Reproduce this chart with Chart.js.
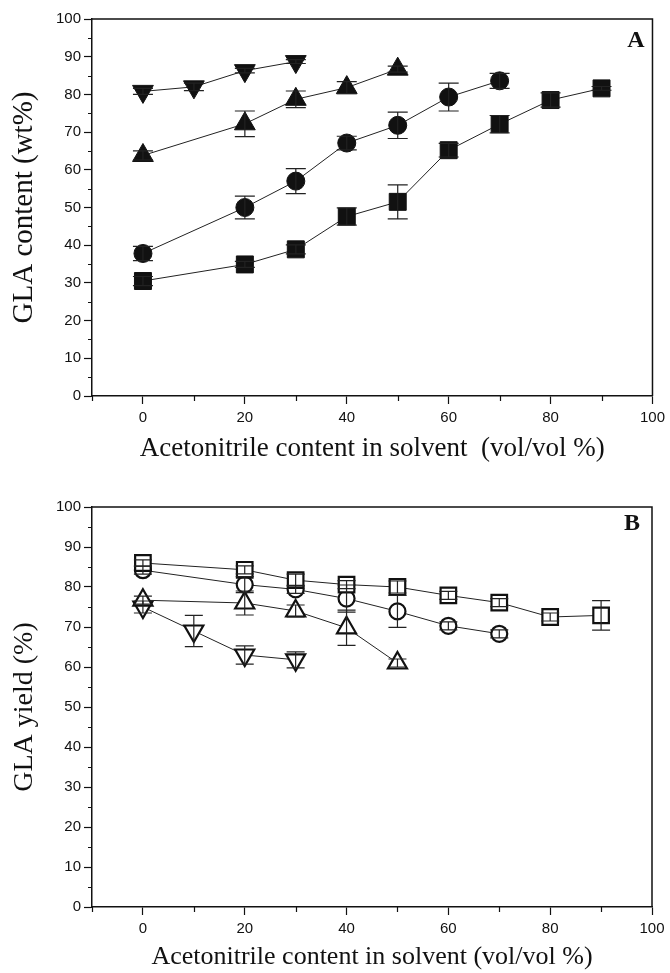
<!DOCTYPE html>
<html>
<head>
<meta charset="utf-8">
<script src="https://cdn.jsdelivr.net/npm/chart.js@4.4.1/dist/chart.umd.min.js"></script>
<style>
  html, body { margin: 0; padding: 0; background: #fff; }
  canvas { display: block; }
</style>
</head>
<body>
<canvas id="chartA" width="670" height="480"></canvas>
<canvas id="chartB" width="670" height="493"></canvas>
<script>
// ---------- data ----------
const xTickLabels = [0, 20, 40, 60, 80, 100];
const yTickLabels = [0, 10, 20, 30, 40, 50, 60, 70, 80, 90, 100];

const downTriX = [0, 10, 20, 30];
const upTriX   = [0, 20, 30, 40, 50];
const circleX  = [0, 20, 30, 40, 50, 60, 70];
const squareX  = [0, 20, 30, 40, 50, 60, 70, 80, 90];

// Panel A: GLA content (wt%)
const downTriA    = [80.8, 82.0, 86.3, 88.7];
const downTriAErr = [0.8, 1.0, 0.6, 0.5];
const upTriA      = [63.8, 72.2, 78.7, 81.8, 86.7];
const upTriAErr   = [1.2, 3.4, 2.2, 1.6, 0.8];
const circleA     = [37.8, 50.0, 57.0, 67.1, 71.8, 79.3, 83.6];
const circleAErr  = [1.9, 3.0, 3.3, 1.8, 3.5, 3.7, 2.0];
const squareA     = [30.5, 34.9, 38.9, 47.6, 51.5, 65.2, 72.1, 78.5, 81.6];
const squareAErr  = [1.2, 0.8, 1.2, 2.3, 4.5, 1.8, 2.3, 1.9, 0.5];

// Panel B: GLA yield (%)
const squareB     = [86.0, 84.3, 81.7, 80.6, 80.0, 77.9, 76.1, 72.5, 72.9];
const squareBErr  = [0.8, 1.0, 1.5, 1.0, 1.5, 1.0, 1.0, 1.0, 3.7];
const circleB     = [84.2, 80.6, 79.4, 77.1, 73.9, 70.3, 68.3];
const circleBErr  = [1.0, 2.0, 1.0, 3.4, 4.0, 1.0, 1.0];
const upTriB      = [76.7, 76.0, 74.0, 69.8, 61.0];
const upTriBErr   = [1.0, 3.0, 1.5, 4.4, 1.0];
const downTriB    = [75.0, 69.0, 63.0, 61.8];
const downTriBErr = [1.5, 3.9, 2.3, 2.0];

// ---------- helpers ----------
const pts = (xs, ys) => xs.map((x, i) => ({ x: x, y: ys[i] }));

function series(xs, ys, errs, style, filled, radius, rotation, capW) {
  return {
    data: pts(xs, ys),
    errors: errs,
    capWidth: capW,
    showLine: true,
    borderColor: '#222',
    borderWidth: 1,
    pointStyle: style,
    pointRotation: rotation || 0,
    pointRadius: radius,
    pointHoverRadius: radius,
    pointBackgroundColor: filled ? '#111' : '#fff',
    pointBorderColor: '#111',
    pointBorderWidth: filled ? 1 : 2.2,
    fill: false,
    tension: 0
  };
}

const errorBars = {
  id: 'errorBars',
  afterDatasetsDraw(chart) {
    const { ctx, scales: { x, y } } = chart;
    ctx.save();
    ctx.strokeStyle = '#222';
    ctx.lineWidth = 1.2;
    chart.data.datasets.forEach(ds => {
      const hw = ds.capWidth / 2;
      ds.data.forEach((p, i) => {
        const e = ds.errors[i];
        const px = x.getPixelForValue(p.x);
        const pt = y.getPixelForValue(p.y + e);
        const pb = y.getPixelForValue(p.y - e);
        ctx.beginPath();
        ctx.moveTo(px, pt); ctx.lineTo(px, pb);
        ctx.moveTo(px - hw, pt); ctx.lineTo(px + hw, pt);
        ctx.moveTo(px - hw, pb); ctx.lineTo(px + hw, pb);
        ctx.stroke();
      });
    });
    ctx.restore();
  }
};

const frame = {
  id: 'frame',
  afterDraw(chart, args, opts) {
    const { ctx, chartArea: a, scales: { x, y } } = chart;
    ctx.save();
    ctx.strokeStyle = '#111';
    ctx.lineWidth = 1.5;
    ctx.beginPath();
    ctx.moveTo(a.left, a.top); ctx.lineTo(a.right, a.top); ctx.lineTo(a.right, a.bottom);
    ctx.stroke();
    // minor ticks
    ctx.lineWidth = 1.2;
    ctx.beginPath();
    for (let v = 5; v < 100; v += 10) {
      const py = Math.round(y.getPixelForValue(v)) + 0.5;
      ctx.moveTo(a.left, py); ctx.lineTo(a.left - 4, py);
    }
    for (let v = -10; v < 100; v += 20) {
      const px = Math.round(x.getPixelForValue(v)) + 0.5;
      ctx.moveTo(px, a.bottom); ctx.lineTo(px, a.bottom + 5);
    }
    ctx.stroke();
    // panel letter
    ctx.fillStyle = '#111';
    ctx.font = 'bold 24px "Liberation Serif", "Times New Roman", serif';
    ctx.textAlign = 'center';
    ctx.textBaseline = 'middle';
    ctx.fillText(opts.letter, opts.lx, opts.ly);
    ctx.restore();
  }
};

function makeOptions(cfg) {
  return {
    responsive: false,
    animation: false,
    events: [],
    layout: { padding: { top: cfg.top, right: cfg.right, left: 0, bottom: 0 } },
    plugins: {
      legend: { display: false },
      tooltip: { enabled: false },
      frame: { letter: cfg.letter, lx: cfg.lx, ly: cfg.ly }
    },
    scales: {
      x: {
        type: 'linear', min: -10, max: 100,
        afterBuildTicks: s => { s.ticks = xTickLabels.map(v => ({ value: v })); },
        afterFit: s => { s.height = cfg.xh; },
        grid: { drawOnChartArea: false, tickLength: 8, color: '#111', tickWidth: 1.2 },
        border: { display: true, color: '#111', width: 1.5 },
        ticks: { color: '#111', padding: 5, font: { family: '"Liberation Sans", Arial, sans-serif', size: 15 } },
        title: {
          display: true, text: cfg.xTitle, color: '#111',
          font: { family: '"Liberation Serif", "Times New Roman", serif', size: cfg.xSize, lineHeight: 1 },
          padding: { top: 0, bottom: cfg.xTitlePad }
        }
      },
      y: {
        type: 'linear', min: 0, max: 100,
        afterBuildTicks: s => { s.ticks = yTickLabels.map(v => ({ value: v })); },
        afterFit: s => { s.width = 92; },
        grid: { drawOnChartArea: false, tickLength: 8, color: '#111', tickWidth: 1.2 },
        border: { display: true, color: '#111', width: 1.5 },
        ticks: { color: '#111', padding: 3, font: { family: '"Liberation Sans", Arial, sans-serif', size: 15 } },
        title: {
          display: true, text: cfg.yTitle, color: '#111',
          font: { family: '"Liberation Serif", "Times New Roman", serif', size: cfg.ySize, lineHeight: 1 },
          padding: { top: cfg.yTitlePad, bottom: 0 }
        }
      }
    }
  };
}

new Chart(document.getElementById('chartA'), {
  type: 'scatter',
  data: {
    datasets: [
      series(downTriX, downTriA, downTriAErr, 'triangle', true, 12, 180, 20),
      series(upTriX, upTriA, upTriAErr, 'triangle', true, 12, 0, 20),
      series(circleX, circleA, circleAErr, 'circle', true, 9, 0, 20),
      series(squareX, squareA, squareAErr, 'rect', true, 12, 0, 20)
    ]
  },
  options: makeOptions({
    top: 19, right: 15, xh: 84, xTitlePad: 18, yTitlePad: 10, ySize: 29, xSize: 27,
    xTitle: 'Acetonitrile content in solvent  (vol/vol %)',
    yTitle: 'GLA content (wt%)',
    letter: 'A', lx: 636, ly: 41
  }),
  plugins: [errorBars, frame]
});

new Chart(document.getElementById('chartB'), {
  type: 'scatter',
  data: {
    datasets: [
      series(squareX, squareB, squareBErr, 'rect', false, 11, 0, 18),
      series(circleX, circleB, circleBErr, 'circle', false, 8, 0, 18),
      series(upTriX, upTriB, upTriBErr, 'triangle', false, 11, 0, 18),
      series(downTriX, downTriB, downTriBErr, 'triangle', false, 11, 180, 18)
    ]
  },
  options: makeOptions({
    top: 27, right: 18, xh: 66, xTitlePad: 3, yTitlePad: 11, ySize: 28, xSize: 26,
    xTitle: 'Acetonitrile content in solvent (vol/vol %)',
    yTitle: 'GLA yield (%)',
    letter: 'B', lx: 632, ly: 44
  }),
  plugins: [errorBars, frame]
});
</script>
</body>
</html>
